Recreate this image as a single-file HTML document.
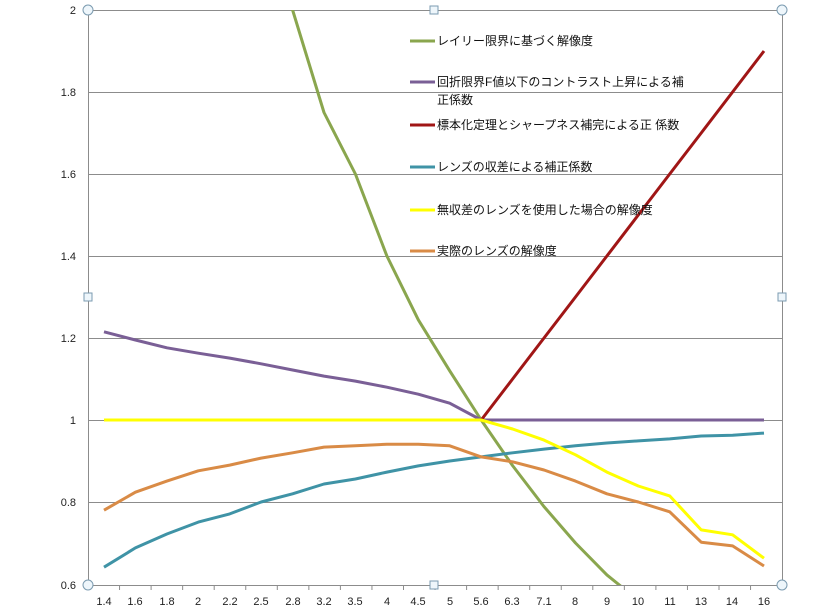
<!DOCTYPE html>
<html><head><meta charset="utf-8"><style>
html,body{margin:0;padding:0;background:#fff;width:835px;height:610px;overflow:hidden;position:relative;}
svg{display:block;position:absolute;left:0;top:0;font-family:"Liberation Sans","Noto Sans CJK JP",sans-serif;}
</style></head><body>
<svg id="s" width="835" height="610" viewBox="0 0 835 610" xmlns="http://www.w3.org/2000/svg" overflow="hidden">
<rect width="835" height="610" fill="#fff"/>
<defs><clipPath id="c"><rect x="88" y="10" width="694" height="575"/></clipPath></defs>
<g stroke="#8c8c8c" stroke-width="1">
<line x1="88" x2="782" y1="10.5" y2="10.5"/>
<line x1="88" x2="782" y1="92.5" y2="92.5"/>
<line x1="88" x2="782" y1="174.5" y2="174.5"/>
<line x1="88" x2="782" y1="256.5" y2="256.5"/>
<line x1="88" x2="782" y1="338.5" y2="338.5"/>
<line x1="88" x2="782" y1="420.5" y2="420.5"/>
<line x1="88" x2="782" y1="502.5" y2="502.5"/>
<line x1="88" x2="782" y1="585.5" y2="585.5"/>
<line x1="88.5" x2="88.5" y1="10" y2="585"/>
<line x1="782.5" x2="782.5" y1="10" y2="585"/>
</g>
<g id="ticks" stroke="#8c8c8c"></g>
<g font-size="11" fill="#222" text-anchor="end">
<text x="76" y="14">2</text><text x="76" y="96">1.8</text><text x="76" y="178">1.6</text>
<text x="76" y="260">1.4</text><text x="76" y="342">1.2</text><text x="76" y="424">1</text>
<text x="76" y="506">0.8</text><text x="76" y="589">0.6</text>
</g>
<g font-size="11" fill="#222" text-anchor="middle">
<text x="104" y="605">1.4</text><text x="135" y="605">1.6</text><text x="167" y="605">1.8</text>
<text x="198" y="605">2</text><text x="230" y="605">2.2</text><text x="261" y="605">2.5</text>
<text x="293" y="605">2.8</text><text x="324" y="605">3.2</text><text x="355" y="605">3.5</text>
<text x="387" y="605">4</text><text x="418" y="605">4.5</text><text x="450" y="605">5</text>
<text x="481" y="605">5.6</text><text x="512" y="605">6.3</text><text x="544" y="605">7.1</text>
<text x="575" y="605">8</text><text x="607" y="605">9</text><text x="638" y="605">10</text>
<text x="670" y="605">11</text><text x="701" y="605">13</text><text x="732" y="605">14</text>
<text x="764" y="605">16</text>
</g>
<g id="series" clip-path="url(#c)" fill="none" stroke-width="3" stroke-linejoin="round"></g>
<g font-size="12" fill="#111">
<line x1="410" x2="435" y1="41" y2="41" stroke="#8aa64e" stroke-width="3"/><text x="437" y="45">レイリー限界に基づく解像度</text>
<line x1="410" x2="435" y1="82" y2="82" stroke="#7a5f96" stroke-width="3"/><text x="437" y="86">回折限界F値以下のコントラスト上昇による補</text><text x="437" y="104">正係数</text>
<line x1="410" x2="435" y1="125" y2="125" stroke="#a01616" stroke-width="3"/><text x="437" y="129">標本化定理とシャープネス補完による正 係数</text>
<line x1="410" x2="435" y1="167" y2="167" stroke="#3f93a6" stroke-width="3"/><text x="437" y="171">レンズの収差による補正係数</text>
<line x1="410" x2="435" y1="210" y2="210" stroke="#ffff00" stroke-width="3"/><text x="437" y="214">無収差のレンズを使用した場合の解像度</text>
<line x1="410" x2="435" y1="251" y2="251" stroke="#d98b46" stroke-width="3"/><text x="437" y="255">実際のレンズの解像度</text>
</g>
<g fill="#eef6fb" stroke="#7b9bb0" stroke-width="1">
<circle cx="88" cy="10" r="5"/><circle cx="782" cy="10" r="5"/><circle cx="88" cy="585" r="5"/><circle cx="782" cy="585" r="5"/>
<rect x="430" y="6" width="8" height="8"/><rect x="430" y="581" width="8" height="8"/>
<rect x="84" y="293" width="8" height="8"/><rect x="778" y="293" width="8" height="8"/>
</g>
</svg>
<script>
var F=[1.4,1.6,1.8,2,2.2,2.5,2.8,3.2,3.5,4,4.5,5,5.6,6.3,7.1,8,9,10,11,13,14,16];
function X(i){return 104+i*31.43;}function Y(v){return 420-(v-1)*410;}
var green=F.map(function(f){return 5.6/f;});
var purple=[1.215,1.195,1.176,1.163,1.151,1.137,1.122,1.107,1.095,1.08,1.063,1.041,1,1,1,1,1,1,1,1,1,1];
var red=F.map(function(v,i){return i>=12?1+(i-12)*0.1:null;});
var teal=[0.641,0.688,0.722,0.751,0.771,0.8,0.82,0.844,0.856,0.873,0.888,0.9,0.91,0.92,0.929,0.937,0.944,0.949,0.954,0.961,0.963,0.968];
var yellow=[1,1,1,1,1,1,1,1,1,1,1,1,1,0.978,0.951,0.915,0.873,0.839,0.815,0.732,0.72,0.663];
var orange=[0.78,0.824,0.851,0.876,0.89,0.907,0.92,0.934,0.937,0.941,0.941,0.937,0.91,0.898,0.878,0.851,0.82,0.8,0.776,0.702,0.693,0.644];
var S=[[green,"#8aa64e"],[purple,"#7a5f96"],[red,"#a01616"],[teal,"#3f93a6"],[yellow,"#ffff00"],[orange,"#d98b46"]];
var g=document.getElementById("series"),h="";
S.forEach(function(s){var p=[];s[0].forEach(function(v,i){if(v!=null)p.push(X(i).toFixed(1)+","+Y(v).toFixed(1));});
h+='<polyline stroke="'+s[1]+'" points="'+p.join(" ")+'"/>';});
g.innerHTML=h;
var t="";for(var i=0;i<=22;i++){var x=88+i*31.55;t+='<line x1="'+x+'" x2="'+x+'" y1="585" y2="590"/>';}
document.getElementById("ticks").innerHTML=t;
</script>
</body></html>
